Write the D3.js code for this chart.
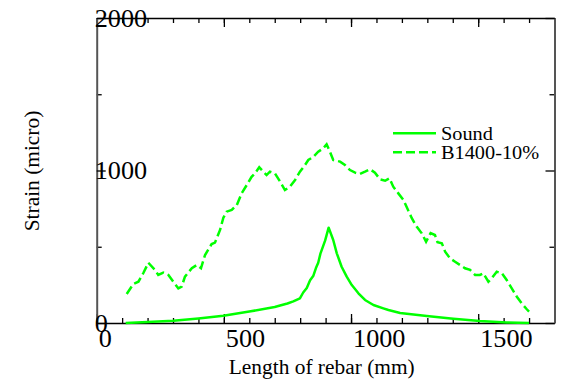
<!DOCTYPE html>
<html>
<head>
<meta charset="utf-8">
<script src="https://cdn.jsdelivr.net/npm/d3@7"></script>
<style>
  body { margin: 0; background: #fff; }
  svg { display: block; }
</style>
</head>
<body>
<div id="chart"></div>
<script>
// Data (position along rebar in mm, strain in micro)
const soundPos = [114, 200, 301, 400, 498, 600, 700, 721, 750, 773, 799, 812, 826, 839, 852, 862, 871, 880, 898, 912,
  930, 944, 963, 983, 1003, 1029, 1055, 1088, 1127, 1147, 1193, 1298, 1402, 1507, 1612, 1700];
const soundVal = [0, 6, 15, 30, 48, 75, 105, 115, 128, 142, 162, 200, 230, 280, 310, 360, 395, 457, 540, 625,
  544, 457, 369, 304, 249, 195, 151, 118, 96, 85, 66, 46, 28, 13, 3, 0];

const crackPos = [118, 144, 164, 183, 203, 229, 242, 262, 282, 301, 321, 334, 347, 374, 393, 410, 426, 452, 465, 485,
  498, 511, 531, 551, 570, 590, 609, 622, 639, 655, 668, 681, 701, 721, 740, 760, 780, 799, 819, 832,
  852, 871, 891, 904, 917, 930, 957, 976, 996, 1016, 1035, 1055, 1075, 1094, 1114, 1134, 1151, 1166, 1186, 1206,
  1221, 1239, 1258, 1278, 1295, 1313, 1330, 1340, 1357, 1370, 1389, 1409, 1429, 1448, 1468, 1488, 1507, 1520, 1540, 1553,
  1573, 1593, 1612, 1632, 1652, 1671, 1691, 1700];
const crackVal = [190, 256, 271, 326, 395, 348, 315, 330, 315, 271, 227, 238, 304, 359, 380, 359, 446, 518, 527, 610,
  690, 730, 741, 774, 850, 905, 959, 981, 1021, 992, 970, 992, 981, 927, 872, 894, 938, 992, 1036, 1069,
  1090, 1123, 1146, 1172, 1123, 1069, 1058, 1036, 1003, 986, 977, 992, 1008, 986, 942, 933, 949, 894, 850, 807,
  752, 687, 632, 588, 533, 590, 577, 530, 523, 468, 424, 402, 380, 359, 348, 315, 315, 326, 271, 293,
  336, 326, 282, 227, 172, 129, 90, 75];

const seriesNames = ["Sound", "B1400-10%"];
const xMajor = [0, 500, 1000, 1500];
const yMajor = [0, 1000, 2000];
const yMinor = [500, 1500];

const width = 562;
const height = 382;
const margin = { top: 18, right: 7.5, bottom: 59, left: 96.7 };
const green = "#00ff00";
const serif = "'Liberation Serif', 'Times New Roman', Times, serif";
const stretch = 1.07; // the original's serif text runs a bit wider than Times

const svg = d3.select("#chart").append("svg")
  .attr("width", width)
  .attr("height", height)
  .attr("font-family", serif);

const x = d3.scaleLinear().domain([0, 1800]).range([margin.left, width - margin.right]);
const y = d3.scaleLinear().domain([0, 2000]).range([height - margin.bottom, margin.top]);

const xMinor = d3.range(0, 1801, 100);

// minor + major ticks on all four sides, pointing inward
function addAxis(axisFn, scale, transform, minorVals, majorVals, lineColor) {
  const gMinor = svg.append("g").attr("transform", transform)
    .call(axisFn(scale).tickValues(minorVals).tickSize(-5).tickFormat(""));
  gMinor.select(".domain").remove();
  gMinor.selectAll("line").attr("stroke", "#000").attr("stroke-width", 1.3);

  const gMajor = svg.append("g").attr("transform", transform)
    .call(axisFn(scale).tickValues(majorVals).tickSize(-9).tickSizeOuter(0).tickFormat(""));
  gMajor.attr("font-family", serif);
  gMajor.select(".domain").attr("stroke", lineColor).attr("stroke-width", lineColor === "#000" ? 1.5 : 2);
  gMajor.selectAll("line").attr("stroke", "#000").attr("stroke-width", 1.3);
  return gMajor;
}

const bottom = addAxis(d3.axisBottom, x, `translate(0,${y(0)})`, xMinor, xMajor, "#000");
addAxis(d3.axisTop, x, `translate(0,${y(2000)})`, xMinor, xMajor, "#000");
const left = addAxis(d3.axisLeft, y, `translate(${x(0)},0)`, yMinor, yMajor, "#555");
addAxis(d3.axisRight, y, `translate(${x(1800)},0)`, yMinor, yMajor, "#555");

// tick labels: left-aligned at the tick, as in the original
bottom.selectAll(".tick").append("text")
  .attr("transform", `translate(1.5,24) scale(${stretch},1)`)
  .attr("text-anchor", "start")
  .attr("font-family", serif)
  .attr("font-size", "24.5px")
  .attr("fill", "#000")
  .text((d) => d);

left.selectAll(".tick").append("text")
  .attr("transform", `translate(-2,8.3) scale(${stretch},1)`)
  .attr("text-anchor", "start")
  .attr("font-family", serif)
  .attr("font-size", "24.5px")
  .attr("fill", "#000")
  .text((d) => d);

// axis titles
svg.append("text")
  .attr("transform", `translate(321.7,374) scale(${stretch},1)`)
  .attr("text-anchor", "middle")
  .attr("font-family", serif)
  .attr("font-size", "20px")
  .text("Length of rebar (mm)");

svg.append("text")
  .attr("transform", `translate(38.5,171) rotate(-90) scale(${stretch},1)`)
  .attr("text-anchor", "middle")
  .attr("font-family", serif)
  .attr("font-size", "20px")
  .text("Strain (micro)");

// lines
const line = d3.line().x((d) => x(d[0])).y((d) => y(d[1]));
const soundData = d3.zip(soundPos, soundVal);
const crackData = d3.zip(crackPos, crackVal);

svg.append("path")
  .datum(soundData)
  .attr("d", line)
  .attr("fill", "none")
  .attr("stroke", green)
  .attr("stroke-width", 2.5)
  .attr("stroke-linejoin", "round");

svg.append("path")
  .datum(crackData)
  .attr("d", line)
  .attr("fill", "none")
  .attr("stroke", green)
  .attr("stroke-width", 2.5)
  .attr("stroke-dasharray", "9,4");

// legend
const legend = svg.append("g").attr("transform", "translate(393,133.3)");
const items = legend.selectAll("g").data(seriesNames).join("g")
  .attr("transform", (d, i) => `translate(0,${i * 19})`);
items.append("line")
  .attr("x1", 0).attr("x2", 43)
  .attr("stroke", green)
  .attr("stroke-width", 2.5)
  .attr("stroke-dasharray", (d, i) => (i === 0 ? null : "9,4"));
items.append("text")
  .attr("transform", `translate(48,6.2) scale(${stretch},1)`)
  .attr("font-family", serif)
  .attr("font-size", "19px")
  .attr("fill", "#000")
  .text((d) => d);
</script>
</body>
</html>
